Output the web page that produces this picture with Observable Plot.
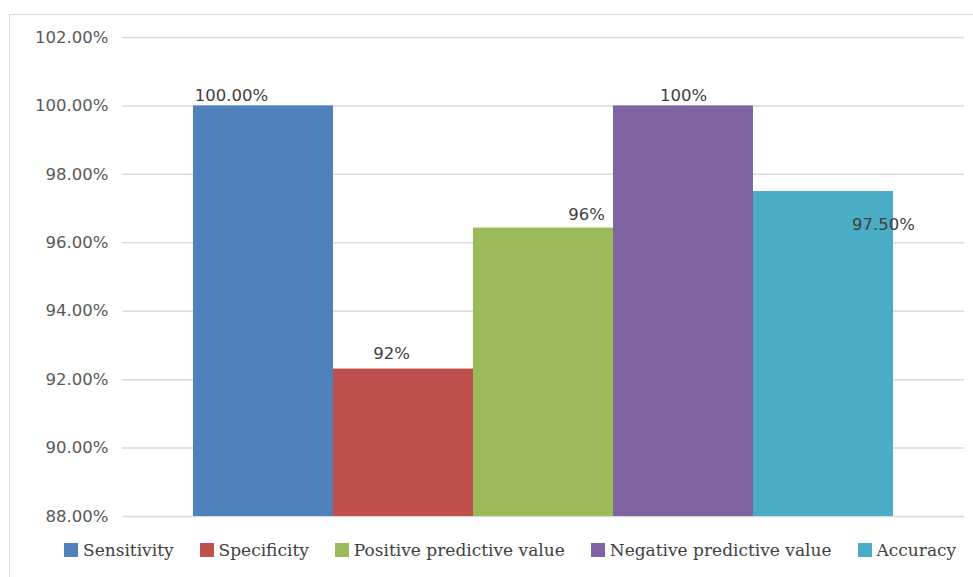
<!DOCTYPE html>
<html>
<head>
<meta charset="utf-8">
<script src="https://cdn.jsdelivr.net/npm/d3@7"></script>
<script src="https://cdn.jsdelivr.net/npm/@observablehq/plot@0.6"></script>
<style>
  html, body { margin: 0; padding: 0; background: #fff; overflow: hidden; }
  #wrap { position: relative; width: 973px; height: 577px; }
  #frame { position: absolute; left: 9px; top: 14px; width: 1000px; height: 600px;
           border: 1px solid #d9d9d9; box-sizing: border-box; }
  #chart { position: absolute; left: 0; top: 0; }
  #legend { position: absolute; left: 64px; top: 540px; display: flex; align-items: center;
            font-family: "DejaVu Serif", serif; font-size: 17px; color: #404040; white-space: nowrap; }
  .item { display: flex; align-items: center; margin-right: 26px; }
  .sw { width: 14px; height: 14px; margin-right: 5px; display: inline-block; }
</style>
</head>
<body>
<div id="wrap">
  <div id="frame"></div>
  <div id="chart"></div>
  <div id="legend"></div>
</div>
<script>
// Diagnostic performance measures (percent)
const metrics = ["Sensitivity", "Specificity", "Positive predictive value", "Negative predictive value", "Accuracy"];
const values = [100, 92.31, 96.43, 100, 97.5];
// Decimal places used in each bar's value label
const labelDecimals = [2, 0, 0, 0, 2];
const colors = ["#4f81bd", "#c0504d", "#9bbb59", "#8064a2", "#4bacc6"];
const yTicks = [88, 90, 92, 94, 96, 98, 100, 102];

const rows = metrics.map((m, i) => ({metric: m, value: values[i], label: values[i].toFixed(labelDecimals[i]) + "%"}));
const yMin = yTicks[0], yMax = yTicks[yTicks.length - 1];

// Where each value label sits relative to the top of its bar
const labelNudge = {
  "Sensitivity": {dx: -32, dy: -10},
  "Specificity": {dx: -12, dy: -15},
  "Positive predictive value": {dx: 43, dy: -13},
  "Negative predictive value": {dx: 0, dy: -10},
  "Accuracy": {dx: 60, dy: 33}
};

const plot = Plot.plot({
  width: 973,
  height: 530,
  marginLeft: 122,
  marginRight: 9,
  marginTop: 37,
  marginBottom: 14,
  style: {fontFamily: "DejaVu Sans, sans-serif", fontSize: "16.5px", background: "transparent"},
  x: {domain: metrics, paddingInner: 0, paddingOuter: 0.5, axis: null},
  y: {domain: [yMin, yMax], ticks: yTicks, tickFormat: d => d.toFixed(2) + "%", tickSize: 0, tickPadding: 14, label: null},
  color: {domain: metrics, range: colors},
  marks: [
    Plot.gridY(yTicks, {stroke: "#d9d9d9", strokeOpacity: 1, strokeWidth: 1.5}),
    Plot.axisY(yTicks, {tickSize: 0, tickPadding: 14, tickFormat: d => d.toFixed(2) + "%", fill: "#595959", label: null}),
    Plot.barY(rows, {x: "metric", y1: () => yMin, y2: "value", fill: "metric", inset: 0}),
    ...metrics.map(m => Plot.text(rows.filter(r => r.metric === m), {
      x: "metric", y: "value", text: "label",
      dx: labelNudge[m].dx, dy: labelNudge[m].dy,
      fill: "#404040", fontSize: 16.5
    }))
  ]
});
document.getElementById("chart").appendChild(plot);

// Legend below the plot
const legend = document.getElementById("legend");
metrics.forEach((m, i) => {
  const item = document.createElement("span");
  item.className = "item";
  const sw = document.createElement("span");
  sw.className = "sw";
  sw.style.background = colors[i];
  item.appendChild(sw);
  item.appendChild(document.createTextNode(m));
  legend.appendChild(item);
});
</script>
</body>
</html>
